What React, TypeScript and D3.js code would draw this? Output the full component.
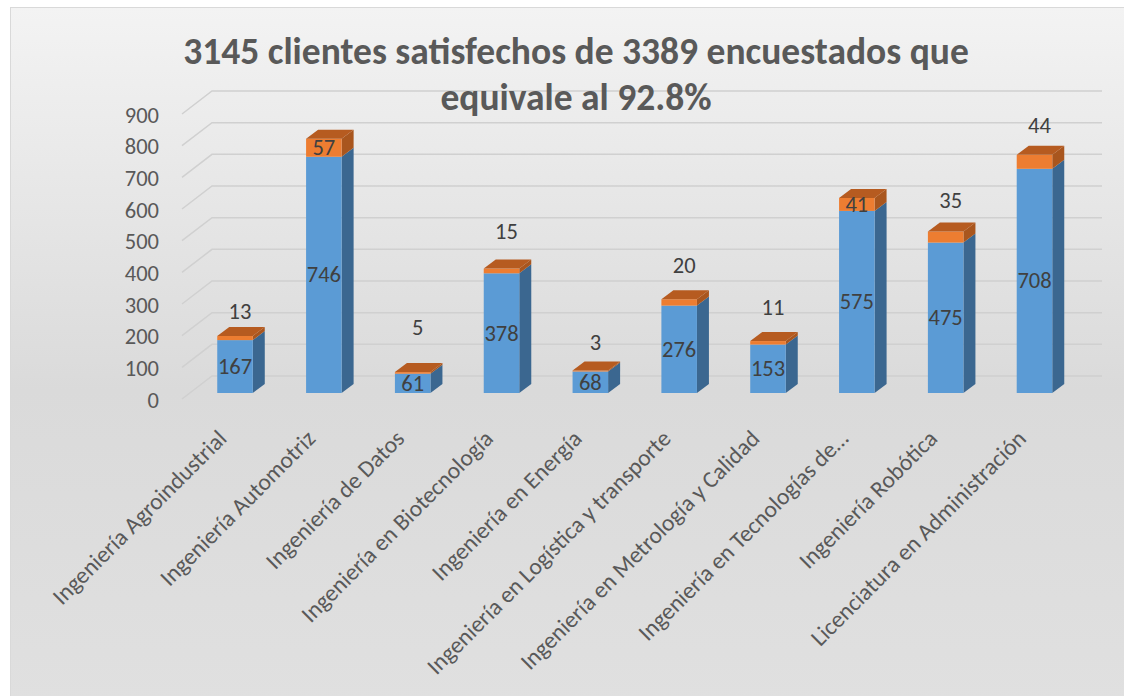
import { useEffect, useRef } from 'react';
import * as d3 from 'd3';

const categories = [
  'Ingeniería Agroindustrial',
  'Ingeniería Automotriz',
  'Ingeniería de Datos',
  'Ingeniería en Biotecnología',
  'Ingeniería en Energía',
  'Ingeniería en Logística y transporte',
  'Ingeniería en Metrología y Calidad',
  'Ingeniería en Tecnologías de…',
  'Ingeniería Robótica',
  'Licenciatura en Administración',
];
const satisfechos = [167, 746, 61, 378, 68, 276, 153, 575, 475, 708];
const noSatisfechos = [13, 57, 5, 15, 3, 20, 11, 41, 35, 44];
const yTicks = [0, 100, 200, 300, 400, 500, 600, 700, 800, 900];
const titleLines = ['3145 clientes satisfechos de 3389 encuestados que', 'equivale al 92.8%'];

// how far (px) the small orange labels were dragged above the bar top; 0 = inside segment
const labelLift = [25, 0, 45, 37, 28, 34, 34, 0, 31, 29];

const FONT = 'Calibri, Carlito, Lato, sans-serif';

export default function App() {
  const svgRef = useRef<SVGSVGElement | null>(null);

  useEffect(() => {
    if (!svgRef.current) return;
    const svg = d3.select(svgRef.current);
    svg.selectAll('*').remove();

    const width = 1124;
    const height = 696;
    svg.attr('viewBox', `0 0 ${width} ${height}`);

    // background panel with gradient
    const defs = svg.append('defs');
    const grad = defs
      .append('linearGradient')
      .attr('id', 'bg')
      .attr('x1', 0)
      .attr('y1', 0)
      .attr('x2', 0)
      .attr('y2', 1);
    grad.append('stop').attr('offset', '0%').attr('stop-color', '#f3f3f3');
    grad.append('stop').attr('offset', '55%').attr('stop-color', '#dadada');
    grad.append('stop').attr('offset', '100%').attr('stop-color', '#e0e0e0');

    svg.append('rect').attr('width', width).attr('height', height).attr('fill', '#ffffff');
    svg
      .append('rect')
      .attr('x', 10.5)
      .attr('y', 7.5)
      .attr('width', width)
      .attr('height', height)
      .attr('fill', 'url(#bg)')
      .attr('stroke', '#d9d9d9')
      .attr('stroke-width', 1);

    const y = d3.scaleLinear().domain([0, 900]).range([393, 108]);
    const x = d3
      .scaleBand<string>()
      .domain(categories)
      .range([190.6, 1078.9])
      .paddingInner(0.6)
      .paddingOuter(0.3);

    // 3D offsets
    const wall = { dx: 30, dy: -23 };
    const depth = { dx: 12, dy: -9 };
    const gridLeft = 182;
    const gridRight = 1102;

    // gridlines: side-wall diagonal + back-wall horizontal
    const grid = svg.append('g').attr('fill', 'none').attr('stroke', '#d0d0d0').attr('stroke-width', 1.5);
    yTicks.forEach((t) => {
      const yf = y(t) + 6;
      const yb = y(t) - 17;
      grid
        .append('path')
        .attr('d', `M${gridLeft},${yf} L${gridLeft + wall.dx},${yb} L${gridRight},${yb}`);
    });

    // y tick labels
    svg
      .append('g')
      .selectAll('text')
      .data(yTicks)
      .join('text')
      .attr('x', 159)
      .attr('y', (d) => y(d) + 7)
      .attr('text-anchor', 'end')
      .attr('dominant-baseline', 'central')
      .attr('font-family', FONT)
      .attr('font-size', 22.5)
      .attr('fill', '#595959')
      .text((d) => d);

    // bars
    const bw = x.bandwidth();
    const barsG = svg.append('g');
    categories.forEach((c, i) => {
      const x0 = x(c) ?? 0;
      const x1 = x0 + bw;
      const b = satisfechos[i];
      const t = b + noSatisfechos[i];
      const y0 = y(0);
      const yb = y(b);
      const yt = y(t);
      const g = barsG.append('g');

      const side = (ya: number, yz: number) =>
        `M${x1},${ya} L${x1 + depth.dx},${ya + depth.dy} L${x1 + depth.dx},${yz + depth.dy} L${x1},${yz} Z`;

      g.append('path').attr('d', side(y0, yb)).attr('fill', '#3b6790');
      g.append('path').attr('d', side(yb, yt)).attr('fill', '#a9561e');
      g.append('rect')
        .attr('x', x0)
        .attr('y', yb)
        .attr('width', bw)
        .attr('height', y0 - yb)
        .attr('fill', '#5b9bd5');
      g.append('rect')
        .attr('x', x0)
        .attr('y', yt)
        .attr('width', bw)
        .attr('height', yb - yt)
        .attr('fill', '#ed7d31');
      g.append('path')
        .attr(
          'd',
          `M${x0},${yt} L${x0 + depth.dx},${yt + depth.dy} L${x1 + depth.dx},${yt + depth.dy} L${x1},${yt} Z`
        )
        .attr('fill', '#b65b20');

      // data labels
      g.append('text')
        .attr('x', x0 + bw / 2)
        .attr('y', (y0 + yb) / 2)
        .attr('text-anchor', 'middle')
        .attr('dominant-baseline', 'central')
        .attr('font-family', FONT)
        .attr('font-size', 22.5)
        .attr('fill', '#404040')
        .text(b);

      const lift = labelLift[i];
      g.append('text')
        .attr('x', lift ? x0 + bw / 2 + 5 : x0 + bw / 2)
        .attr('y', lift ? yt - lift : (yb + yt) / 2)
        .attr('text-anchor', 'middle')
        .attr('dominant-baseline', 'central')
        .attr('font-family', FONT)
        .attr('font-size', 22.5)
        .attr('fill', '#404040')
        .text(noSatisfechos[i]);
    });

    // category labels, rotated -45, end of baseline under the bar
    svg
      .append('g')
      .selectAll('text')
      .data(categories)
      .join('text')
      .attr('transform', (d) => `translate(${(x(d) ?? 0) + bw / 2 - 7},${440}) rotate(-45)`)
      .attr('text-anchor', 'end')
      .attr('font-family', FONT)
      .attr('font-size', 23.5)
      .attr('fill', '#595959')
      .text((d) => d);

    // title
    svg
      .append('g')
      .selectAll('text')
      .data(titleLines)
      .join('text')
      .attr('x', 576)
      .attr('y', (_, i) => 64 + i * 46)
      .attr('text-anchor', 'middle')
      .attr('font-family', FONT)
      .attr('font-weight', 'bold')
      .attr('font-size', 37.5)
      .attr('fill', '#595959')
      .text((d) => d);
  }, []);

  return (
    <svg
      ref={svgRef}
      width={1124}
      height={696}
      style={{ position: 'absolute', left: 0, top: 0, display: 'block' }}
      role="img"
      aria-label="Stacked 3D column chart"
    />
  );
}
